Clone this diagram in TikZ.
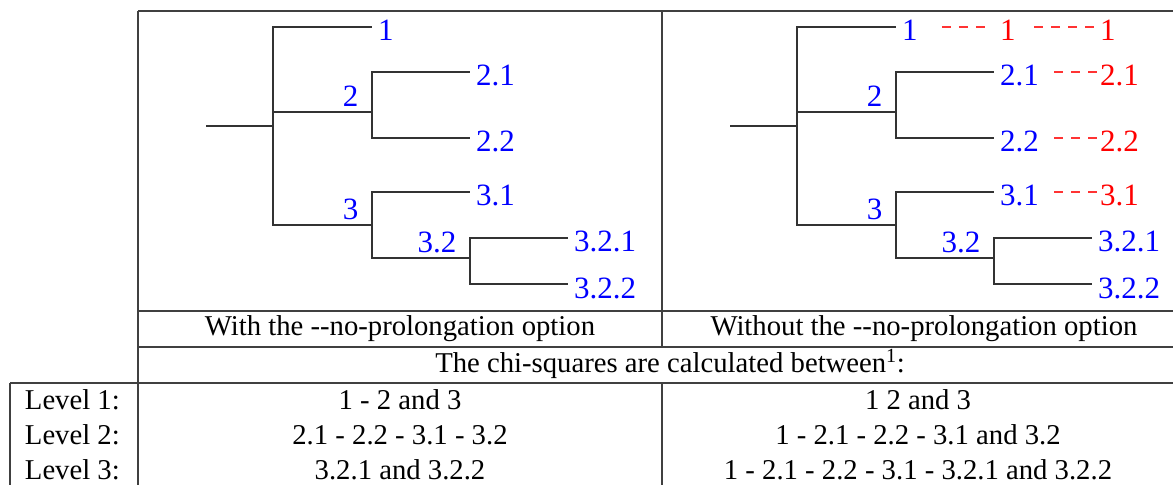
\documentclass[tikz,border=0pt]{standalone}
\usepackage{fontspec}
\setmainfont{Liberation Serif}
\newcommand\mytree[2]{%
  \coordinate (#1R) at ({206+#2},126);
  \coordinate (#1J) at ({273+#2},126);
  \coordinate (#1p1) at ({372+#2},27);
  \coordinate (#1p2) at ({372+#2},112);
  \coordinate (#1p3) at ({372+#2},225);
  \coordinate (#1p21) at ({470+#2},72);
  \coordinate (#1p22) at ({470+#2},138);
  \coordinate (#1p31) at ({470+#2},192);
  \coordinate (#1p32) at ({470+#2},258);
  \coordinate (#1p321) at ({568+#2},238);
  \coordinate (#1p322) at ({568+#2},284);
  \draw[tline] (#1R) -- (#1J);
  \draw[tline] (#1J) |- (#1p1);
  \draw[tline] (#1J) |- (#1p2);
  \draw[tline] (#1J) |- (#1p3);
  \draw[tline] (#1p2) |- (#1p21);
  \draw[tline] (#1p2) |- (#1p22);
  \draw[tline] (#1p3) |- (#1p31);
  \draw[tline] (#1p3) |- (#1p32);
  \draw[tline] (#1p32) |- (#1p321);
  \draw[tline] (#1p32) |- (#1p322);
  \node[leaf] (#1L1) at ([xshift=6pt,yshift=-13pt]#1p1) {1};
  \node[leaf] (#1L21) at ([xshift=6pt,yshift=-13pt]#1p21) {2.1};
  \node[leaf] (#1L22) at ([xshift=6pt,yshift=-13pt]#1p22) {2.2};
  \node[leaf] (#1L31) at ([xshift=6pt,yshift=-13pt]#1p31) {3.1};
  \node[leaf] (#1L321) at ([xshift=6pt,yshift=-13pt]#1p321) {3.2.1};
  \node[leaf] (#1L322) at ([xshift=6pt,yshift=-14pt]#1p322) {3.2.2};
  \node[inlab] (#1L2) at ([xshift=-13.5pt,yshift=6pt]#1p2) {2};
  \node[inlab] (#1L3) at ([xshift=-13.5pt,yshift=6pt]#1p3) {3};
  \node[inlab] (#1L32) at ([xshift=-13.5pt,yshift=6pt]#1p32) {3.2};
}
\begin{document}
\begin{tikzpicture}[x=1pt,y=-1pt,
  tline/.style={line width=1.1pt, black!80},
  rule/.style={line width=1.1pt, black!75},
  treefont/.style={font=\fontsize{31}{36}\selectfont},
  leaf/.style={treefont, anchor=base west, inner sep=0pt, text=blue},
  inlab/.style={treefont, anchor=base east, inner sep=0pt, text=blue},
  redlab/.style={leaf, text=red},
  reddash/.style={red!80, line width=1.2pt, dash pattern=on 9pt off 8pt},
  cell/.style={font=\fontsize{28.7}{34}\selectfont, anchor=base, inner sep=0pt},
  lvl/.style={cell, anchor=base east}]
\useasboundingbox (0,0) rectangle (1173,485);

% table rules
\draw[rule] (138,11) -- (1173,11);
\draw[rule] (138,11) -- (138,485);
\draw[rule] (662,11) -- (662,347);
\draw[rule] (662,383) -- (662,485);
\draw[rule] (138,311) -- (1173,311);
\draw[rule] (138,347) -- (1173,347);
\draw[rule] (10,383) -- (1173,383);
\draw[rule] (10,383) -- (10,485);

% trees
\mytree{a}{0}
\mytree{b}{524}

% red prolongations
\node[redlab] (r1a) at ([xshift=6pt,yshift=-13pt]bp21 |- bp1) {1};
\node[redlab] (r1b) at ([xshift=8pt,yshift=-13pt]bp321 |- bp1) {1};
\node[redlab] (r21) at ([xshift=8pt,yshift=-13pt]bp321 |- bp21) {2.1};
\node[redlab] (r22) at ([xshift=8pt,yshift=-13pt]bp321 |- bp22) {2.2};
\node[redlab] (r31) at ([xshift=8pt,yshift=-13pt]bp321 |- bp31) {3.1};
\draw[reddash] ([xshift=24pt,yshift=13pt]bL1.base east) -- ([xshift=-13pt,yshift=13pt]r1a.base west);
\draw[reddash] ([xshift=18.5pt,yshift=13pt]r1a.base east) -- ([xshift=-6pt,yshift=13pt]r1b.base west);
\draw[reddash] ([xshift=15pt,yshift=13pt]bL21.base east) -- ([xshift=-2pt,yshift=13pt]r21.base west);
\draw[reddash] ([xshift=15pt,yshift=13pt]bL22.base east) -- ([xshift=-2pt,yshift=13pt]r22.base west);
\draw[reddash] ([xshift=15pt,yshift=13pt]bL31.base east) -- ([xshift=-2pt,yshift=13pt]r31.base west);

% captions
\node[cell] (capL) at (400,335) {With the \mbox{-}\mbox{-}no-prolongation option};
\node[cell] (capR) at (924,335) {Without the \mbox{-}\mbox{-}no-prolongation option};
\node[cell] (chi) at (670,372) {The chi-squares are calculated between\textsuperscript{1}:};

% level rows
\node[lvl] (lv1) at (120,409) {Level 1:};
\node[lvl] (lv2) at (120,444) {Level 2:};
\node[lvl] (lv3) at (120,479) {Level 3:};
\node[cell] (a1) at (400,409) {1 - 2 and 3};
\node[cell] (a2) at (400,444) {2.1 - 2.2 - 3.1 - 3.2};
\node[cell] (a3) at (400,479) {3.2.1 and 3.2.2};
\node[cell] (b1) at (918,409) {1 2 and 3};
\node[cell] (b2) at (918,444) {1 - 2.1 - 2.2 - 3.1 and 3.2};
\node[cell] (b3) at (918,479) {1 - 2.1 - 2.2 - 3.1 - 3.2.1 and 3.2.2};
\end{tikzpicture}
\end{document}
